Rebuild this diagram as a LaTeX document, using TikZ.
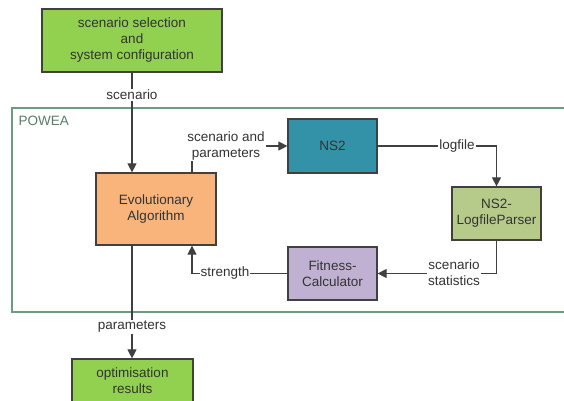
\documentclass[tikz,border=0pt]{standalone}
\usepackage{fontspec}
\setmainfont{Liberation Sans}
\usetikzlibrary{arrows.meta}
\definecolor{boxgreen}{HTML}{92D050}
\definecolor{nsteal}{HTML}{3391A8}
\definecolor{eaorange}{HTML}{F9B47C}
\definecolor{parsergreen}{HTML}{B6CB8A}
\definecolor{fitlav}{HTML}{C0B1D3}
\definecolor{framecol}{HTML}{6E9A84}
\definecolor{linecol}{HTML}{404040}
\definecolor{txtcol}{HTML}{333333}
\begin{document}
\begin{tikzpicture}[x=1pt,y=-1pt,
  every node/.style={font=\fontsize{13.5}{16}\selectfont, text=txtcol},
  blk/.style={draw=linecol, line width=1.2pt, align=center, inner sep=0pt},
  lbl/.style={fill=white, align=center, inner sep=1pt},
  conn/.style={draw=linecol, line width=1.1pt},
  arr/.style={conn, -{Triangle[length=9pt,width=9pt]}}]
\useasboundingbox (0,0) rectangle (564,400);
% frame
\draw[framecol, line width=1.2pt] (12,108) rectangle (580,312);
\node[anchor=west, text=framecol!80!black] (powea) at (15,121) {POWEA};
% boxes
\node[blk, fill=boxgreen, minimum width=180pt, minimum height=63pt] (top) at (132,40.5) {scenario selection\\and\\system configuration};
\node[blk, fill=eaorange, minimum width=120pt, minimum height=72pt] (ea) at (156,209) {Evolutionary\\Algorithm};
\node[blk, fill=nsteal, minimum width=89pt, minimum height=54pt] (ns) at (332.5,146) {NS2};
\node[blk, fill=parsergreen, minimum width=89pt, minimum height=53pt] (parser) at (496.5,213.5) {NS2-\\LogfileParser};
\node[blk, fill=fitlav, minimum width=89pt, minimum height=53pt] (fit) at (332.5,273.5) {Fitness-\\Calculator};
\node[blk, fill=boxgreen, minimum width=121pt, minimum height=44pt] (opt) at (132.5,381) {optimisation\\results};
% connectors
\draw[arr] (top.south) -- (ea.north -| top.south);
\node[lbl] (lscen) at (132,95) {scenario};
\coordinate (eatop) at ([xshift=36pt]ea.north);
\draw[arr] (eatop) |- (ns.west);
\node[lbl] (lscenpar) at (226,146) {scenario and\\parameters};
\draw[arr] (ns.east) -| (parser.north);
\node[lbl] (llog) at (457,146) {logfile};
\draw[arr] (parser.south) |- (fit.east);
\node[lbl] (lstat) at (454,273) {scenario\\statistics};
\coordinate (eabot) at ([xshift=36pt]ea.south);
\draw[arr] (fit.west) -| (eabot);
\node[lbl] (lstr) at (225,273) {strength};
\coordinate (eabotl) at ([xshift=-24pt]ea.south);
\draw[arr] (eabotl) -- (eabotl |- opt.north);
\node[lbl] (lpar) at (132,327) {parameters};
\end{tikzpicture}
\end{document}
